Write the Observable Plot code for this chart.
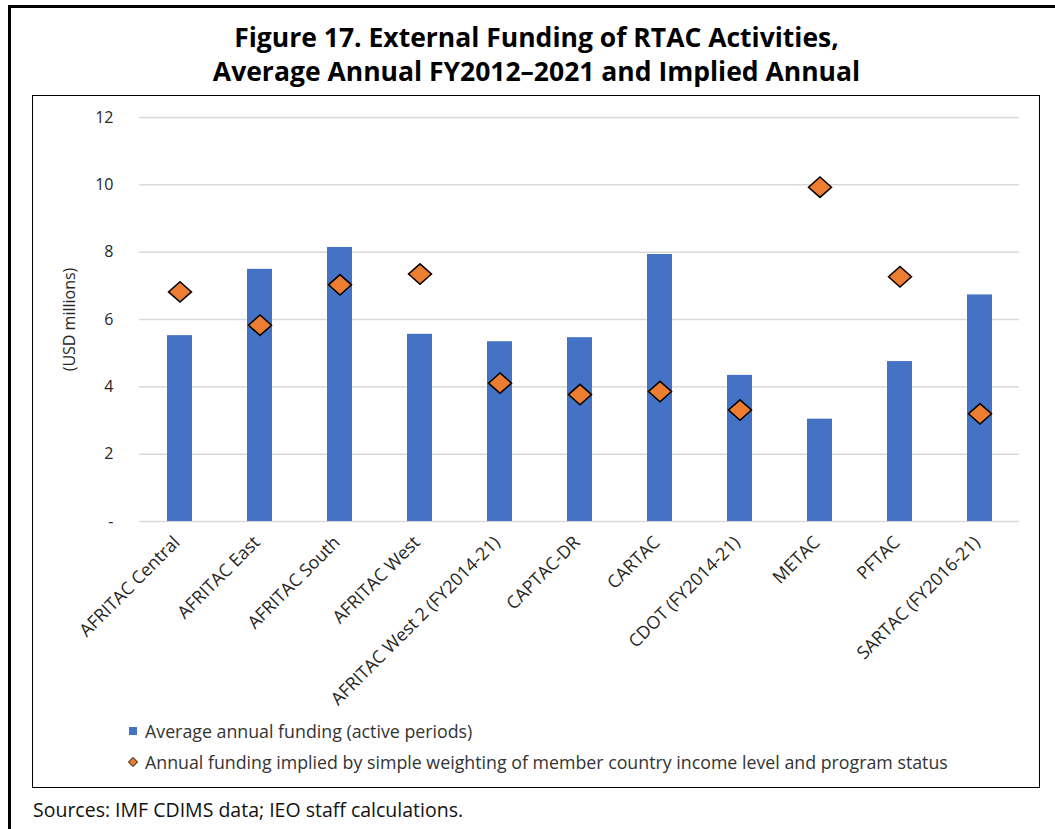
<!DOCTYPE html>
<html>
<head>
<meta charset="utf-8">
<script src="https://cdn.jsdelivr.net/npm/d3@7"></script>
<script src="https://cdn.jsdelivr.net/npm/@observablehq/plot@0.6"></script>
<style>
  html, body { margin: 0; padding: 0; background: #fff; }
  #page { position: relative; width: 1055px; height: 829px; overflow: hidden; font-family: "Open Sans", sans-serif; color: #222; }
  #outer { position: absolute; left: 8px; top: 5px; width: 1100px; height: 900px; border-left: 3px solid #000; border-top: 3px solid #000; }
  #title { position: absolute; left: 9px; width: 1055px; top: 20px; text-align: center; font-weight: 700; font-size: 26.5px; line-height: 34px; color: #000; }
  #inner { position: absolute; left: 32px; top: 95px; width: 1006px; height: 691px; border: 1.3px solid #000; }
  #chart { position: absolute; left: 33px; top: 97px; }
  .leg { position: absolute; left: 145px; font-size: 17.8px; color: #333; white-space: nowrap; line-height: 24px; }
  #sq { position: absolute; left: 129px; top: 727px; width: 8px; height: 8px; background: #4472C4; }
  #dm { position: absolute; left: 127px; top: 756px; }
  #source { position: absolute; left: 33px; top: 796px; font-size: 19.5px; line-height: 28px; color: #111; white-space: nowrap; }
</style>
</head>
<body>
<div id="page">
  <div id="outer"></div>
  <div id="title">Figure 17. External Funding of RTAC Activities,<br>Average Annual FY2012–2021 and Implied Annual</div>
  <div id="inner"></div>
  <div id="chart"></div>
  <div id="sq"></div>
  <div class="leg" style="top:719px">Average annual funding (active periods)</div>
  <svg id="dm" width="12" height="12"><path d="M6,1.5L10.5,6L6,10.5L1.5,6Z" fill="#ED7D31" stroke="#000" stroke-width="1"/></svg>
  <div class="leg" style="top:750px">Annual funding implied by simple weighting of member country income level and program status</div>
  <div id="source">Sources: IMF CDIMS data; IEO staff calculations.</div>
</div>
<script>
const names = ["AFRITAC Central","AFRITAC East","AFRITAC South","AFRITAC West","AFRITAC West 2 (FY2014-21)","CAPTAC-DR","CARTAC","CDOT (FY2014-21)","METAC","PFTAC","SARTAC (FY2016-21)"];
const avgFunding = [5.52, 7.49, 8.14, 5.56, 5.34, 5.46, 7.93, 4.34, 3.04, 4.75, 6.73];
const impliedFunding = [6.82, 5.83, 7.03, 7.35, 4.11, 3.77, 3.86, 3.31, 9.93, 7.27, 3.20];
const yTicks = [0, 2, 4, 6, 8, 10, 12];

const rows = names.map((name, i) => ({name, avg: avgFunding[i], implied: impliedFunding[i]}));

const diamond = {
  draw(ctx, size) {
    const r = Math.sqrt(size / Math.PI);
    const w = r * 1.15, h = r * 1.02;
    ctx.moveTo(0, -h); ctx.lineTo(w, 0); ctx.lineTo(0, h); ctx.lineTo(-w, 0); ctx.closePath();
  }
};

const chart = Plot.plot({
  width: 1005,
  height: 620,
  marginLeft: 106,
  marginRight: 19,
  marginTop: 20,
  marginBottom: 196,
  style: {fontFamily: "Open Sans", fontSize: "15.5px", color: "#404040", background: "transparent", overflow: "visible"},
  x: {domain: names, paddingInner: 0.6875, paddingOuter: 0.34375, label: null},
  y: {domain: [0, 12], label: null},
  marks: [
    Plot.gridY(yTicks, {stroke: "#d9d9d9", strokeWidth: 1.5, strokeOpacity: 1}),
    Plot.axisY(yTicks, {tickSize: 0, tickPadding: 26, fontSize: 16, tickFormat: d => d === 0 ? "-" : String(d), label: "(USD millions)", labelAnchor: "center", labelArrow: "none", labelOffset: 76, fill: "#262626"}),
    Plot.axisX({tickSize: 0, tickRotate: -45, tickPadding: 18, dx: -3, fontSize: 17.8, label: null, fill: "#262626"}),
    Plot.barY(rows, {x: "name", y: "avg", fill: "#4472C4"}),
    Plot.dot(rows, {x: "name", y: "implied", symbol: diamond, r: 10, fill: "#ED7D31", stroke: "#000", strokeWidth: 1.5})
  ]
});
document.getElementById("chart").appendChild(chart);
</script>
</body>
</html>
